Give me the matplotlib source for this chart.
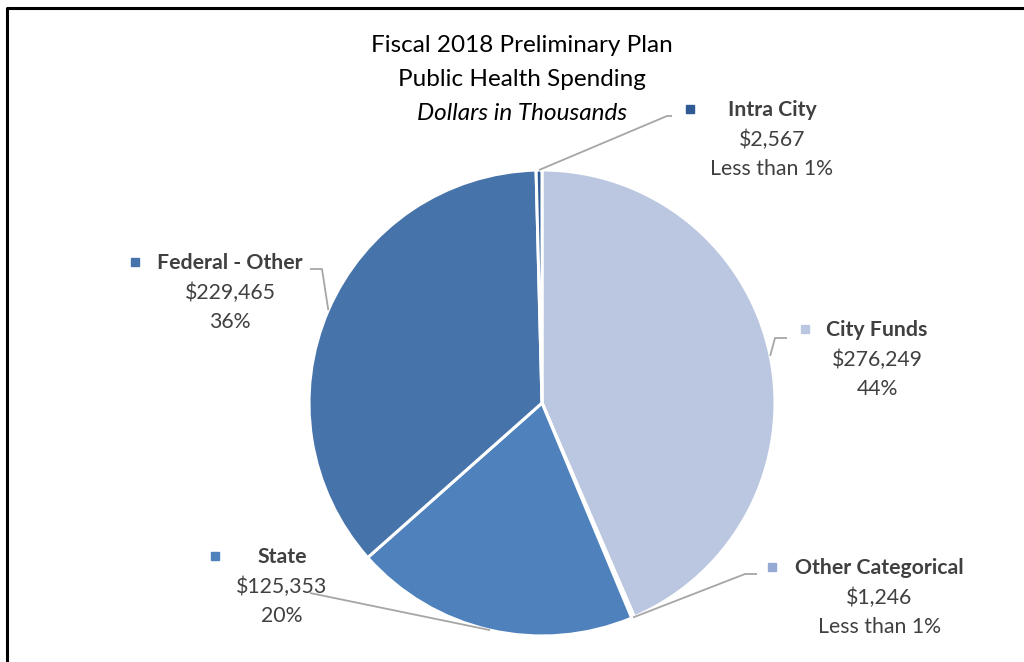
import numpy as np
import matplotlib
matplotlib.use("Agg")
import matplotlib.pyplot as plt

# ---- data ----
categories = ["City Funds", "Other Categorical", "State", "Federal - Other", "Intra City"]
values = [276249, 1246, 125353, 229465, 2567]
pct_labels = ["44%", "Less than 1%", "20%", "36%", "Less than 1%"]
colors = ["#BBC7E0", "#95A9D2", "#4F81BD", "#4673A9", "#2F5A93"]

title_lines = ["Fiscal 2018 Preliminary Plan", "Public Health Spending"]
subtitle = "Dollars in Thousands"

W, H = 1024, 662
fig = plt.figure(figsize=(W / 100, H / 100), dpi=100)
ax = fig.add_axes([0, 0, 1, 1])
ax.set_xlim(0, W)
ax.set_ylim(0, H)
ax.set_aspect("equal")
ax.axis("off")

def Y(y):
    return H - y

cx, cy, R = 542, Y(403), 233
wedges, _ = ax.pie(values, colors=colors, startangle=90, counterclock=False,
                   center=(cx, cy), radius=R, frame=True,
                   wedgeprops=dict(edgecolor="white", linewidth=2.2))
ax.set_xlim(0, W)
ax.set_ylim(0, H)
ax.axis("off")

FONT = "Lato"
tcol = "#404040"
lcol = "#A6A6A6"

# title
ax.text(522, Y(45), title_lines[0], ha="center", va="center", fontsize=17.5, family=FONT, color="black")
ax.text(522, Y(80), title_lines[1], ha="center", va="center", fontsize=17.5, family=FONT, color="black")
ax.text(522, Y(113), subtitle, ha="center", va="center", fontsize=17.5, family=FONT, style="italic", color="black")

# label layout: (text center x, first line y, marker x, leader points from label side)
layout = {
    "City Funds": (877, 330, 805, [(787, 338), (775, 338)]),
    "Other Categorical": (879, 568, 772, [(757, 574), (745, 574)]),
    "State": (282, 557, 215, [(310, 593)]),
    "Federal - Other": (230, 263, 135, [(310, 269), (322, 269)]),
    "Intra City": (772, 110, 690, [(672, 116), (667, 116)]),
}

for w, cat, val, pct, col in zip(wedges, categories, values, pct_labels, colors):
    tx, ty, mx, pts = layout[cat]
    ax.text(tx, Y(ty), cat, ha="center", va="center", fontsize=15.3, family=FONT,
            weight="bold", color=tcol)
    ax.text(tx, Y(ty + 30), f"${val:,}", ha="center", va="center", fontsize=15.3,
            family=FONT, color=tcol)
    ax.text(tx, Y(ty + 59), pct, ha="center", va="center", fontsize=15.3,
            family=FONT, color=tcol)
    ax.plot([mx], [Y(ty - 1)], marker="s", markersize=5.5, color=col, linestyle="none")
    mid = np.deg2rad((w.theta1 + w.theta2) / 2)
    ex, ey = cx + R * np.cos(mid), cy + R * np.sin(mid)
    xs = [p[0] for p in pts] + [ex]
    ys = [Y(p[1]) for p in pts] + [ey]
    ax.plot(xs, ys, color=lcol, linewidth=1.3, solid_capstyle="butt")

# chart border (top and left visible)
ax.plot([7, 7, W + 10], [-10, Y(7.5), Y(7.5)], color="black", linewidth=2.2, clip_on=False)

fig.savefig("out.png", dpi=100)
